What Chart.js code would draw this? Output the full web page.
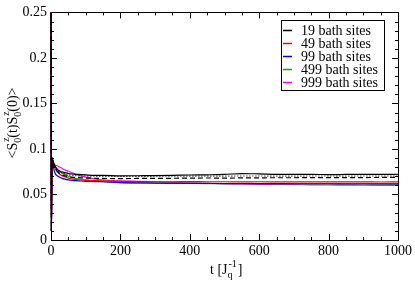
<!DOCTYPE html>
<html>
<head>
<meta charset="utf-8">
<script src="https://cdn.jsdelivr.net/npm/chart.js@4.4.1/dist/chart.umd.min.js"></script>
<style>
html, body { margin: 0; padding: 0; background: #fff; }
#wrap { width: 415px; height: 283px; }
</style>
</head>
<body>
<div id="wrap"><canvas id="chart" width="415" height="283"></canvas></div>
<script>
// time points
const times = [0, 0.5, 1, 2, 3, 5, 10, 20, 30, 40, 50, 60, 80, 100, 125, 150, 200, 250, 300, 350, 400, 450, 500, 550, 600, 650, 700, 750, 800, 850, 900, 950, 1000];

const sites19 = [0.25, 0.12, 0.01, 0.05, 0.09, 0.088, 0.082, 0.077, 0.075, 0.074, 0.073, 0.0725, 0.072, 0.0715, 0.071, 0.071, 0.0705, 0.0706, 0.0707, 0.071, 0.0714, 0.0716, 0.072, 0.073, 0.0726, 0.0721, 0.072, 0.0721, 0.0718, 0.072, 0.0721, 0.072, 0.0722];
const sites19b = [0.25, 0.12, 0.01, 0.05, 0.09, 0.087, 0.08, 0.075, 0.072, 0.0705, 0.0695, 0.069, 0.0685, 0.068, 0.0678, 0.0676, 0.0675, 0.0676, 0.0677, 0.0678, 0.068, 0.0681, 0.068, 0.0682, 0.0683, 0.0684, 0.0684, 0.0685, 0.0685, 0.0686, 0.0686, 0.0687, 0.0688];
const sites19c = [0.25, 0.12, 0.01, 0.05, 0.09, 0.088, 0.081, 0.076, 0.074, 0.0725, 0.0715, 0.071, 0.0705, 0.0703, 0.07, 0.0699, 0.0698, 0.0699, 0.07, 0.07, 0.0701, 0.0701, 0.0702, 0.0703, 0.0703, 0.0702, 0.0702, 0.0703, 0.0703, 0.0702, 0.0703, 0.0703, 0.0703];
const sites49 = [0.25, 0.12, 0.01, 0.05, 0.09, 0.088, 0.08, 0.074, 0.071, 0.0695, 0.068, 0.0672, 0.0662, 0.0655, 0.0652, 0.065, 0.0645, 0.0642, 0.064, 0.064, 0.0641, 0.064, 0.064, 0.0639, 0.064, 0.0639, 0.0638, 0.0639, 0.0638, 0.0638, 0.0638, 0.0637, 0.0638];
const sites99 = [0.25, 0.12, 0.01, 0.05, 0.09, 0.085, 0.075, 0.07, 0.068, 0.0668, 0.066, 0.0655, 0.065, 0.0645, 0.0642, 0.064, 0.063, 0.0628, 0.0625, 0.0623, 0.0622, 0.0621, 0.062, 0.062, 0.0619, 0.0619, 0.0618, 0.0618, 0.0618, 0.0617, 0.0618, 0.0617, 0.0617];
const sites499 = [0.25, 0.12, 0.01, 0.05, 0.09, 0.088, 0.082, 0.077, 0.074, 0.072, 0.07, 0.0688, 0.067, 0.066, 0.065, 0.064, 0.063, 0.0627, 0.0625, 0.0623, 0.0621, 0.062, 0.062, 0.0619, 0.0618, 0.0617, 0.0617, 0.0616, 0.0616, 0.0615, 0.0615, 0.0615, 0.0614];
const sites999 = [0.25, 0.12, 0.01, 0.05, 0.09, 0.085, 0.083, 0.081, 0.079, 0.077, 0.0755, 0.074, 0.071, 0.069, 0.0672, 0.066, 0.065, 0.0645, 0.064, 0.0632, 0.0626, 0.0622, 0.062, 0.0615, 0.0612, 0.061, 0.0608, 0.0606, 0.0604, 0.0603, 0.0602, 0.0601, 0.06];

const legendLabels = ['19 bath sites', '49 bath sites', '99 bath sites', '499 bath sites', '999 bath sites'];
const yTicks = [0, 0.05, 0.1, 0.15, 0.2, 0.25];
const xTicks = [0, 200, 400, 600, 800, 1000];

const FONT = '"Liberation Serif", "DejaVu Serif", serif';

function pts(arr) {
    return times.map((t, i) => ({ x: t, y: arr[i] }));
}
function line(label, arr, color, dash, inLegend) {
    return {
        label: label,
        data: pts(arr),
        borderColor: color,
        backgroundColor: color,
        borderWidth: 1.2,
        borderDash: dash,
        pointRadius: 0,
        clip: 3,
        cubicInterpolationMode: 'monotone',
        inLegend: inLegend
    };
}

// xmgrace-like frame: box drawn under the data, inward ticks, titles and boxed legend on top
const gracePlugin = {
    id: 'grace',
    beforeDatasetsDraw(chart) {
        const c = chart.ctx;
        const a = chart.chartArea;
        c.save();
        c.strokeStyle = '#000';
        c.lineWidth = 1;
        c.strokeRect(Math.round(a.left) + 0.5, Math.round(a.top) + 0.5, Math.round(a.right - a.left), Math.round(a.bottom - a.top));
        c.restore();
    },
    afterDraw(chart) {
        const c = chart.ctx;
        const a = chart.chartArea;
        const xs = chart.scales.x, ys = chart.scales.y;
        c.save();
        c.strokeStyle = '#000';
        c.lineWidth = 1;
        c.beginPath();
        for (let v = 50; v < 1000; v += 50) {
            const px = Math.round(xs.getPixelForValue(v)) + 0.5;
            const len = v % 200 === 0 ? 6 : 3;
            c.moveTo(px, a.bottom); c.lineTo(px, a.bottom - len);
            c.moveTo(px, a.top); c.lineTo(px, a.top + len);
        }
        for (let k = 1; k < 25; k++) {
            const py = Math.round(ys.getPixelForValue(k * 0.01)) + 0.5;
            const len = k % 5 === 0 ? 6 : 3;
            c.moveTo(a.left, py); c.lineTo(a.left + len, py);
            c.moveTo(a.right, py); c.lineTo(a.right - len, py);
        }
        c.stroke();

        // x title: t [J_q^-1]
        c.fillStyle = '#000';
        c.textBaseline = 'alphabetic';
        c.textAlign = 'left';
        const big = '14px ' + FONT, small = '10px ' + FONT;
        let x = 210, y = 274;
        c.font = big; c.fillText('t [J', x, y); x += c.measureText('t [J').width;
        c.font = small; c.fillText('q', x, y + 4); c.fillText('-1', x + 1, y - 7); x += c.measureText('-1').width + 2;
        c.font = big; c.fillText(']', x, y);

        // y title: <S_0^z(t)S_0^z(0)>
        c.translate(17, 123);
        c.rotate(-Math.PI / 2);
        const parts = [['<S', 0], ['0', 1], ['(t)S', 0], ['0', 1], ['(0)>', 0]];
        let total = 0;
        parts.forEach(p => { c.font = p[1] ? small : big; total += c.measureText(p[0]).width; });
        x = -total / 2;
        parts.forEach(p => {
            if (p[1]) {
                c.font = small;
                c.fillText(p[0], x, 4);
                c.fillText('z', x + 1, -8);
            } else {
                c.font = big;
                c.fillText(p[0], x, 0);
            }
            x += c.measureText(p[0]).width;
        });
        c.restore();

        // legend
        c.save();
        const items = legendLabels.map(l => chart.data.datasets.find(d => d.label === l));
        const bx = 281, by = 20, bw = 103, bh = 70;
        c.fillStyle = '#fff';
        c.fillRect(bx, by, bw, bh);
        c.strokeStyle = '#000';
        c.lineWidth = 1;
        c.strokeRect(bx + 0.5, by + 0.5, bw, bh);
        c.font = '14px ' + FONT;
        c.textBaseline = 'middle';
        items.forEach((d, i) => {
            const ly = Math.round(by + 10 + i * 13.1) + 0.5;
            c.strokeStyle = d.borderColor;
            c.lineWidth = 1.5;
            c.beginPath();
            c.moveTo(283, ly); c.lineTo(292, ly);
            c.stroke();
            c.fillStyle = '#000';
            c.fillText(d.label, 301, ly + 1);
        });
        c.restore();
    }
};

new Chart(document.getElementById('chart'), {
    type: 'line',
    data: {
        datasets: [
            line(legendLabels[0], sites19, '#000', [], true),
            line('19 bath sites (b)', sites19b, '#000', [5, 3], false),
            line('19 bath sites (c)', sites19c, '#000', [1, 2], false),
            line(legendLabels[1], sites49, '#ff0000', [], true),
            line(legendLabels[2], sites99, '#0000ff', [], true),
            line(legendLabels[3], sites499, '#00b000', [], true),
            line(legendLabels[4], sites999, '#ff00ff', [], true)
        ]
    },
    options: {
        responsive: false,
        animation: false,
        layout: { padding: { left: 0, right: 15, top: 6, bottom: 0 } },
        plugins: { legend: { display: false }, tooltip: { enabled: false } },
        scales: {
            x: {
                type: 'linear',
                min: 0, max: 1000,
                afterBuildTicks: s => { s.ticks = xTicks.map(v => ({ value: v })); },
                afterFit: s => { s.height = 43; },
                grid: { display: false, drawTicks: false },
                border: { display: false },
                ticks: { color: '#000', padding: 3, maxRotation: 0, font: { family: FONT, size: 14 },
                    callback: v => String(v) }
            },
            y: {
                min: 0, max: 0.25,
                afterBuildTicks: s => { s.ticks = yTicks.map(v => ({ value: v })); },
                afterFit: s => { s.width = 51; },
                grid: { display: false, drawTicks: false },
                border: { display: false },
                ticks: { color: '#000', padding: 4, font: { family: FONT, size: 14 },
                    callback: v => String(+v.toFixed(2)) }
            }
        }
    },
    plugins: [gracePlugin]
});
</script>
</body>
</html>
